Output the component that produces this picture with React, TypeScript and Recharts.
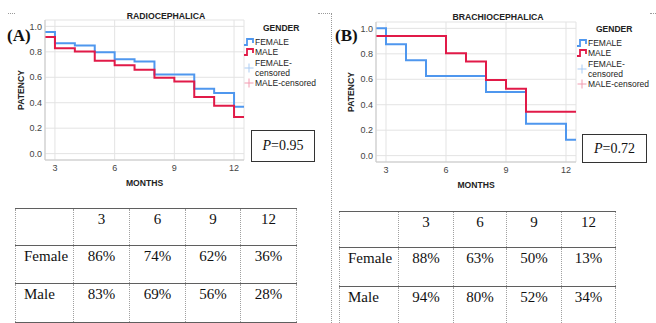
import React from 'react';
import { LineChart, Line, XAxis, YAxis, CartesianGrid, Legend, Label } from 'recharts';

// Kaplan-Meier steps (month -> patency)
const monthsA = [2.5, 3, 4, 5, 6, 7, 8, 9, 10, 11, 12, 12.5];
const femaleA = [0.955, 0.868, 0.85, 0.797, 0.742, 0.724, 0.621, 0.621, 0.51, 0.476, 0.368, 0.368];
const maleA = [0.916, 0.829, 0.803, 0.729, 0.695, 0.66, 0.597, 0.566, 0.445, 0.376, 0.287, 0.287];

const monthsB = [2.5, 3, 4, 5, 6, 7, 8, 9, 10, 12, 12.5];
const femaleB = [1.0, 0.875, 0.75, 0.625, 0.625, 0.625, 0.5, 0.5, 0.25, 0.125, 0.125];
const maleB = [0.94, 0.94, 0.94, 0.94, 0.805, 0.74, 0.595, 0.525, 0.345, 0.345, 0.345];

const monthTicks = [3, 6, 9, 12];
const patencyTicks = [0, 0.2, 0.4, 0.6, 0.8, 1.0];

// tables under the charts
const tableHeader = ['3', '6', '9', '12'];
const femalePctA = ['86%', '74%', '62%', '36%'];
const malePctA = ['83%', '69%', '56%', '28%'];
const femalePctB = ['88%', '63%', '50%', '13%'];
const malePctB = ['94%', '80%', '52%', '34%'];

const FEMALE = '#4f97ee';
const MALE = '#e11a48';
const FEMALE_CENS = '#a9cbf3';
const MALE_CENS = '#f29bb0';

const sans = '"Liberation Sans", Arial, sans-serif';
const serif = '"Liberation Serif", "Times New Roman", serif';

const buildRows = (months: number[], female: number[], male: number[]) =>
  months.map((month, i) => ({ month, female: female[i], male: male[i] }));

const StepIcon = ({ color }: { color: string }) => (
  <svg width={11} height={8} style={{ display: 'block', flex: 'none' }}>
    <path d="M0 7H3V1H9V5" fill="none" stroke={color} strokeWidth={1.8} />
  </svg>
);

const PlusIcon = ({ color }: { color: string }) => (
  <svg width={11} height={10} style={{ display: 'block', flex: 'none' }}>
    <path d="M5 0.5V9.5M0.5 5H9.5" stroke={color} strokeWidth={1} />
  </svg>
);

const KmLegend = () => (
  <div style={{ fontFamily: sans, fontSize: 8.5, color: '#222', lineHeight: '10px' }}>
    <div style={{ fontWeight: 'bold', paddingLeft: 19, height: 12, lineHeight: '12px', marginBottom: 3 }}>GENDER</div>
    <div style={{ display: 'flex', alignItems: 'center', height: 10 }}>
      <StepIcon color={FEMALE} />
      <span>FEMALE</span>
    </div>
    <div style={{ display: 'flex', alignItems: 'center', height: 10 }}>
      <StepIcon color={MALE} />
      <span>MALE</span>
    </div>
    <div style={{ display: 'flex', alignItems: 'center', marginTop: 1 }}>
      <PlusIcon color={FEMALE_CENS} />
      <span>
        FEMALE-
        <br />
        censored
      </span>
    </div>
    <div style={{ display: 'flex', alignItems: 'center', height: 10 }}>
      <PlusIcon color={MALE_CENS} />
      <span>MALE-censored</span>
    </div>
  </div>
);

interface KmChartProps {
  data: Array<{ month: number; female: number; male: number }>;
  top: number;
  right: number;
  xAxisHeight: number;
  yAxisWidth: number;
  yLabelOffset: number;
  xLabelOffset: number;
  legendLeft: number;
  legendTop: number;
}

const KmChart = ({ data, top, right, xAxisHeight, yAxisWidth, yLabelOffset, xLabelOffset, legendLeft, legendTop }: KmChartProps) => (
  <LineChart width={330} height={200} data={data} margin={{ top, right, bottom: 0, left: 0 }}>
    <CartesianGrid stroke="#e3e3e3" />
    <XAxis
      dataKey="month"
      type="number"
      domain={[2.5, 12.5]}
      ticks={monthTicks}
      allowDataOverflow
      height={xAxisHeight}
      stroke="#c9c9c9"
      tickLine={false}
      tickSize={3}
      tickMargin={2}
      tick={{ fill: '#444', fontSize: 9, fontFamily: sans }}
    >
      <Label
        value="MONTHS"
        position="insideBottom"
        offset={xLabelOffset}
        style={{ fontFamily: sans, fontSize: 8.6, fontWeight: 'bold', fill: '#222' }}
      />
    </XAxis>
    <YAxis
      type="number"
      domain={[-0.05, 1.05]}
      ticks={patencyTicks}
      allowDataOverflow
      width={yAxisWidth}
      stroke="#c9c9c9"
      tickLine={false}
      tickSize={2}
      tickMargin={1}
      tickFormatter={(v: number) => v.toFixed(1)}
      tick={{ fill: '#444', fontSize: 9, fontFamily: sans }}
    >
      <Label
        value="PATENCY"
        angle={-90}
        position="insideLeft"
        offset={yLabelOffset}
        style={{ textAnchor: 'middle', fontFamily: sans, fontSize: 8.6, fontWeight: 'bold', fill: '#222' }}
      />
    </YAxis>
    <Line type="stepAfter" dataKey="female" stroke={FEMALE} strokeWidth={2} dot={false} isAnimationActive={false} />
    <Line type="stepAfter" dataKey="male" stroke={MALE} strokeWidth={2} dot={false} isAnimationActive={false} />
    <Legend
      layout="vertical"
      align="center"
      verticalAlign="middle"
      wrapperStyle={{ left: legendLeft, top: legendTop, width: 88 }}
      content={() => <KmLegend />}
    />
  </LineChart>
);

interface PctTableProps {
  female: string[];
  male: string[];
  colWidths: number[];
  rowHeights: number[];
  left: number;
  top: number;
}

const hLine = '1.5px solid #5f5f5f';
const vLine = '1px dotted #a0a0a0';

const PctTable = ({ female, male, colWidths, rowHeights, left, top }: PctTableProps) => {
  const cell = (text: string, col: number, row: number) => (
    <td
      key={col}
      style={{
        width: colWidths[col],
        height: rowHeights[row],
        padding: 0,
        paddingTop: 2,
        paddingLeft: col === 0 ? 8 : 0,
        textAlign: col === 0 ? 'left' : 'center',
        verticalAlign: 'top',
        borderTop: hLine,
        borderBottom: hLine,
        borderLeft: vLine,
        borderRight: vLine,
        boxSizing: 'border-box',
      }}
    >
      {text}
    </td>
  );
  return (
    <table
      style={{
        position: 'absolute',
        left,
        top,
        borderCollapse: 'collapse',
        tableLayout: 'fixed',
        fontFamily: serif,
        fontSize: 15,
        lineHeight: '17px',
        color: '#111',
      }}
    >
      <tbody>
        <tr>{['', ...tableHeader].map((t, i) => cell(t, i, 0))}</tr>
        <tr>{['Female', ...female].map((t, i) => cell(t, i, 1))}</tr>
        <tr>{['Male', ...male].map((t, i) => cell(t, i, 2))}</tr>
      </tbody>
    </table>
  );
};

const dots = '1px dotted #9a9a9a';

export default function App() {
  const rowsA = buildRows(monthsA, femaleA, maleA);
  const rowsB = buildRows(monthsB, femaleB, maleB);
  const title = { position: 'absolute' as const, fontFamily: sans, fontSize: 8.7, fontWeight: 'bold' as const, color: '#222', textAlign: 'center' as const, lineHeight: '10px' };
  const panelTag = { position: 'absolute' as const, fontFamily: serif, fontSize: 17, fontWeight: 'bold' as const, color: '#111', lineHeight: '17px' };
  const pBox = { position: 'absolute' as const, border: '1px solid #333', boxSizing: 'border-box' as const, fontFamily: serif, fontSize: 14, color: '#111', display: 'flex', alignItems: 'center', justifyContent: 'center' };

  return (
    <div style={{ position: 'relative', width: 656, height: 323, background: '#fff', overflow: 'hidden' }}>
      <style>{'body{margin:0}'}</style>

      {/* page marks */}
      <div style={{ position: 'absolute', left: 8, top: 13, width: 7, borderTop: dots }} />
      <div style={{ position: 'absolute', left: 318, top: 13, width: 14, borderTop: dots }} />
      <div style={{ position: 'absolute', left: 331, top: 13, height: 310, borderLeft: dots }} />
      <div style={{ position: 'absolute', left: 650, top: 13, width: 6, borderTop: dots }} />

      {/* panel A */}
      <div style={{ position: 'absolute', left: 0, top: 0 }}>
        <KmChart data={rowsA} top={20} right={86} xAxisHeight={40} yAxisWidth={45} yLabelOffset={21} xLabelOffset={14} legendLeft={244} legendTop={22} />
      </div>
      <div style={{ ...title, left: 116, top: 11, width: 100 }}>RADIOCEPHALICA</div>
      <div style={{ ...panelTag, left: 7, top: 27 }}>(A)</div>
      <div style={{ ...pBox, left: 251, top: 130, width: 64, height: 32 }}>
        <span><i>P</i>=0.95</span>
      </div>

      {/* panel B */}
      <div style={{ position: 'absolute', left: 326, top: 0 }}>
        <KmChart data={rowsB} top={22} right={80} xAxisHeight={38} yAxisWidth={50} yLabelOffset={25} xLabelOffset={12} legendLeft={251} legendTop={23} />
      </div>
      <div style={{ ...title, left: 438, top: 12, width: 120 }}>BRACHIOCEPHALICA</div>
      <div style={{ ...panelTag, left: 335, top: 27 }}>(B)</div>
      <div style={{ ...pBox, left: 582, top: 134, width: 65, height: 29 }}>
        <span><i>P</i>=0.72</span>
      </div>

      <PctTable female={femalePctA} male={malePctA} colWidths={[58, 56, 56, 55, 56]} rowHeights={[37, 38, 39]} left={15} top={208} />
      <PctTable female={femalePctB} male={malePctB} colWidths={[59, 55, 53, 55, 54]} rowHeights={[36, 39, 39]} left={339} top={211} />
    </div>
  );
}
